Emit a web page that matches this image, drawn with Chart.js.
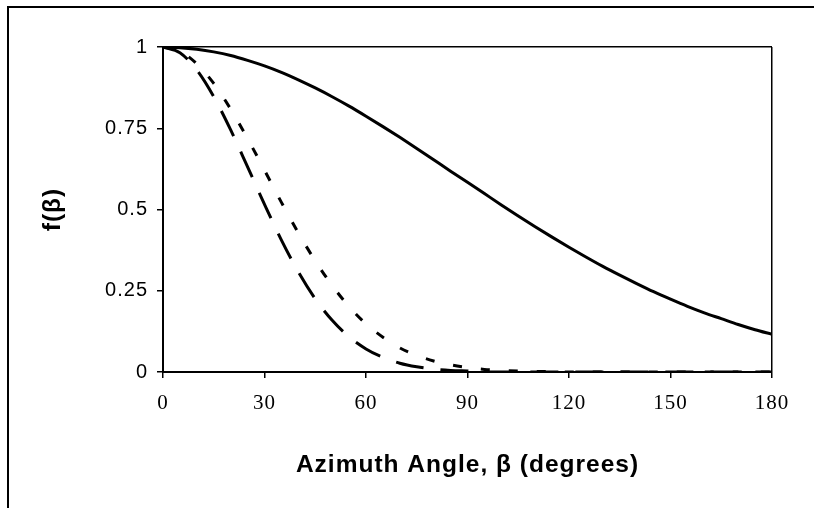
<!DOCTYPE html>
<html>
<head>
<meta charset="utf-8">
<script src="https://cdn.jsdelivr.net/npm/chart.js@4/dist/chart.umd.min.js"></script>
<style>
  html, body { margin: 0; padding: 0; background: #fff; }
  #wrap { position: relative; width: 814px; height: 508px; overflow: hidden; }
  #frame { position: absolute; left: 7px; top: 6px; width: 900px; height: 600px; border-left: 2px solid #000; border-top: 2px solid #000; }
  #chart { position: absolute; left: 0; top: 0; }
</style>
</head>
<body>
<div id="wrap">
  <div id="frame"></div>
  <canvas id="chart" width="814" height="508"></canvas>
</div>
<script>
// azimuth angle (degrees) and f(beta) values
const angles = [0, 5, 10, 15, 20, 25, 30, 35, 40, 45, 50, 55, 60, 65, 70, 75, 80, 85, 90,
  95, 100, 105, 110, 115, 120, 125, 130, 135, 140, 145, 150, 155, 160, 165, 170, 175, 180];

// solid curve
const fSolid = [1, 0.998, 0.993, 0.985, 0.974, 0.959, 0.942, 0.922, 0.899, 0.874, 0.847, 0.818,
  0.787, 0.755, 0.722, 0.688, 0.653, 0.618, 0.584, 0.549, 0.514, 0.48, 0.447, 0.415, 0.384,
  0.354, 0.325, 0.298, 0.272, 0.247, 0.224, 0.202, 0.182, 0.164, 0.146, 0.13, 0.116];

// long dashes (steepest curve)
const fLongDash = [1, 0.982, 0.929, 0.847, 0.745, 0.631, 0.516, 0.406, 0.308, 0.225, 0.159, 0.108,
  0.071, 0.045, 0.027, 0.016, 0.009, 0.005, 0.003, 0.001, 0, 0, 0, 0, 0,
  0, 0, 0, 0, 0, 0, 0, 0, 0, 0, 0, 0];

// short dashes
const fShortDash = [1, 0.987, 0.948, 0.888, 0.809, 0.718, 0.621, 0.522, 0.428, 0.342, 0.266, 0.201,
  0.148, 0.107, 0.074, 0.051, 0.034, 0.022, 0.014, 0.008, 0.005, 0.003, 0.002, 0.001, 0,
  0, 0, 0, 0, 0, 0, 0, 0, 0, 0, 0, 0];

const yTickLabels = ['0', '0.25', '0.5', '0.75', '1'];
const xTitle = 'Azimuth Angle, \u03b2 (degrees)';
const yTitle = 'f(\u03b2)';

function toPoints(ys) {
    return angles.map((a, i) => ({ x: a, y: ys[i] }));
}

// Excel-like wide text
const spacing = {
    id: 'spacing',
    beforeLayout(chart) { chart.ctx.letterSpacing = '1px'; },
    beforeDraw(chart) { chart.ctx.letterSpacing = '1px'; }
};

const lineStyle = {
    borderColor: '#000',
    borderWidth: 3,
    pointRadius: 0,
    fill: false,
    cubicInterpolationMode: 'monotone'
};

new Chart(document.getElementById('chart'), {
    type: 'line',
    data: {
        datasets: [
            Object.assign({ label: 'solid', data: toPoints(fSolid) }, lineStyle),
            Object.assign({ label: 'short', data: toPoints(fShortDash), borderDash: [9, 19] }, lineStyle),
            Object.assign({ label: 'long', data: toPoints(fLongDash), borderDash: [28, 17] }, lineStyle)
        ]
    },
    options: {
        responsive: false,
        animation: false,
        layout: { padding: { top: 47, right: 42, left: 0, bottom: 0 } },
        plugins: { legend: { display: false }, tooltip: { enabled: false } },
        scales: {
            x: {
                type: 'linear',
                min: 0,
                max: 180,
                afterFit: s => { s.height = 136; },
                ticks: {
                    stepSize: 30,
                    color: '#000',
                    padding: 13,
                    font: { family: 'Liberation Serif', size: 21 }
                },
                grid: {
                    color: c => (c.tick && c.tick.value === 180 ? '#000' : 'rgba(0,0,0,0)'),
                    tickColor: '#000',
                    tickLength: 6,
                    lineWidth: 1.5
                },
                border: { color: '#000', width: 2 },
                title: {
                    display: true,
                    text: xTitle,
                    color: '#000',
                    padding: { top: 0, bottom: 28 },
                    font: { family: 'Liberation Sans', size: 24.5, weight: 'bold' }
                }
            },
            y: {
                min: 0,
                max: 1,
                afterFit: s => { s.width = 163; },
                ticks: {
                    stepSize: 0.25,
                    color: '#000',
                    padding: 9,
                    font: { family: 'Liberation Sans', size: 20 },
                    callback: (v, i) => yTickLabels[i]
                },
                grid: {
                    color: c => (c.tick && c.tick.value === 1 ? '#000' : 'rgba(0,0,0,0)'),
                    tickColor: '#000',
                    tickLength: 6,
                    lineWidth: 1.5
                },
                border: { color: '#000', width: 2 },
                title: {
                    display: true,
                    text: yTitle,
                    color: '#000',
                    padding: { top: 39, bottom: 0 },
                    font: { family: 'Liberation Sans', size: 24.5, weight: 'bold' }
                }
            }
        }
    },
    plugins: [spacing]
});
</script>
</body>
</html>
